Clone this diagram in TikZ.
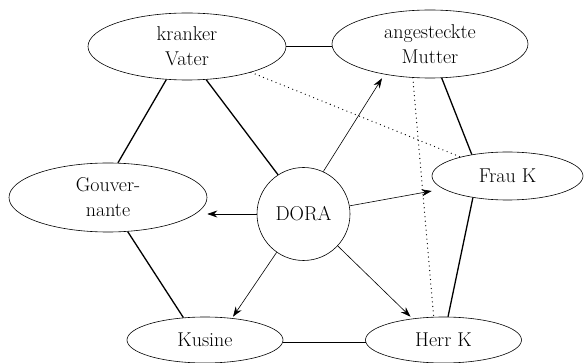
\documentclass[tikz,border=0pt]{standalone}
\usepackage{fontspec}
\usetikzlibrary{shapes.geometric,arrows.meta}
\begin{document}
\begin{tikzpicture}[x=1pt,y=-1pt,
  person/.style={ellipse, draw, line width=0.6pt, inner sep=0pt, align=center,
    font=\fontsize{20}{25}\selectfont},
  tie/.style={line width=1.3pt},
  hint/.style={line width=1.3pt, dash pattern=on 0pt off 4.5pt, line cap=round},
  wish/.style={line width=0.6pt, -{Stealth[length=10pt,width=7pt]}}]
\useasboundingbox (0,0) rectangle (584,363);
\node[person, minimum width=198pt, minimum height=67pt] (vater) at (187,46.5) {kranker\\Vater};
\node[person, minimum width=196pt, minimum height=68pt] (mutter) at (430,44) {angesteckte\\Mutter};
\node[person, minimum width=198pt, minimum height=69pt] (gouv) at (108,197.5) {Gouver-\\nante};
\node[person, minimum width=151pt, minimum height=48pt] (frauk) at (507.5,176) {Frau K};
\node[person, minimum width=156pt, minimum height=46pt] (kusine) at (205,340) {Kusine};
\node[person, minimum width=156pt, minimum height=46pt] (herrk) at (443.5,340) {Herr K};
\node[person, circle, minimum size=93pt] (dora) at (303.5,214) {DORA};
% solid ties
\draw[tie] (vater.east) -- (vater.east -| mutter.west);
\draw[tie] (vater.238) -- (gouv.74);
\draw[tie] (vater.300) -- (dora.123);
\draw[tie] (mutter.289) -- (frauk.149);
\draw[tie] (frauk.212) -- (herrk.79);
\draw[tie] (gouv.300) -- (kusine.134);
\draw[tie] (kusine.358) -- (herrk.182);
% dotted
\draw[hint] (vater) -- (frauk);
\draw[hint] (mutter.243) -- (herrk.113);
% arrows from DORA
\draw[wish] (dora.west) -- (dora.west -| gouv.east);
\draw[wish] (dora.65) -- ([xshift=-48pt]mutter.south);
\draw[wish] (dora.10) -- ([yshift=-15pt]frauk.west);
\draw[wish] (dora.235) -- ([xshift=28pt]kusine.north);
\draw[wish] (dora.317) -- ([xshift=-33pt]herrk.north);
\end{tikzpicture}
\end{document}
